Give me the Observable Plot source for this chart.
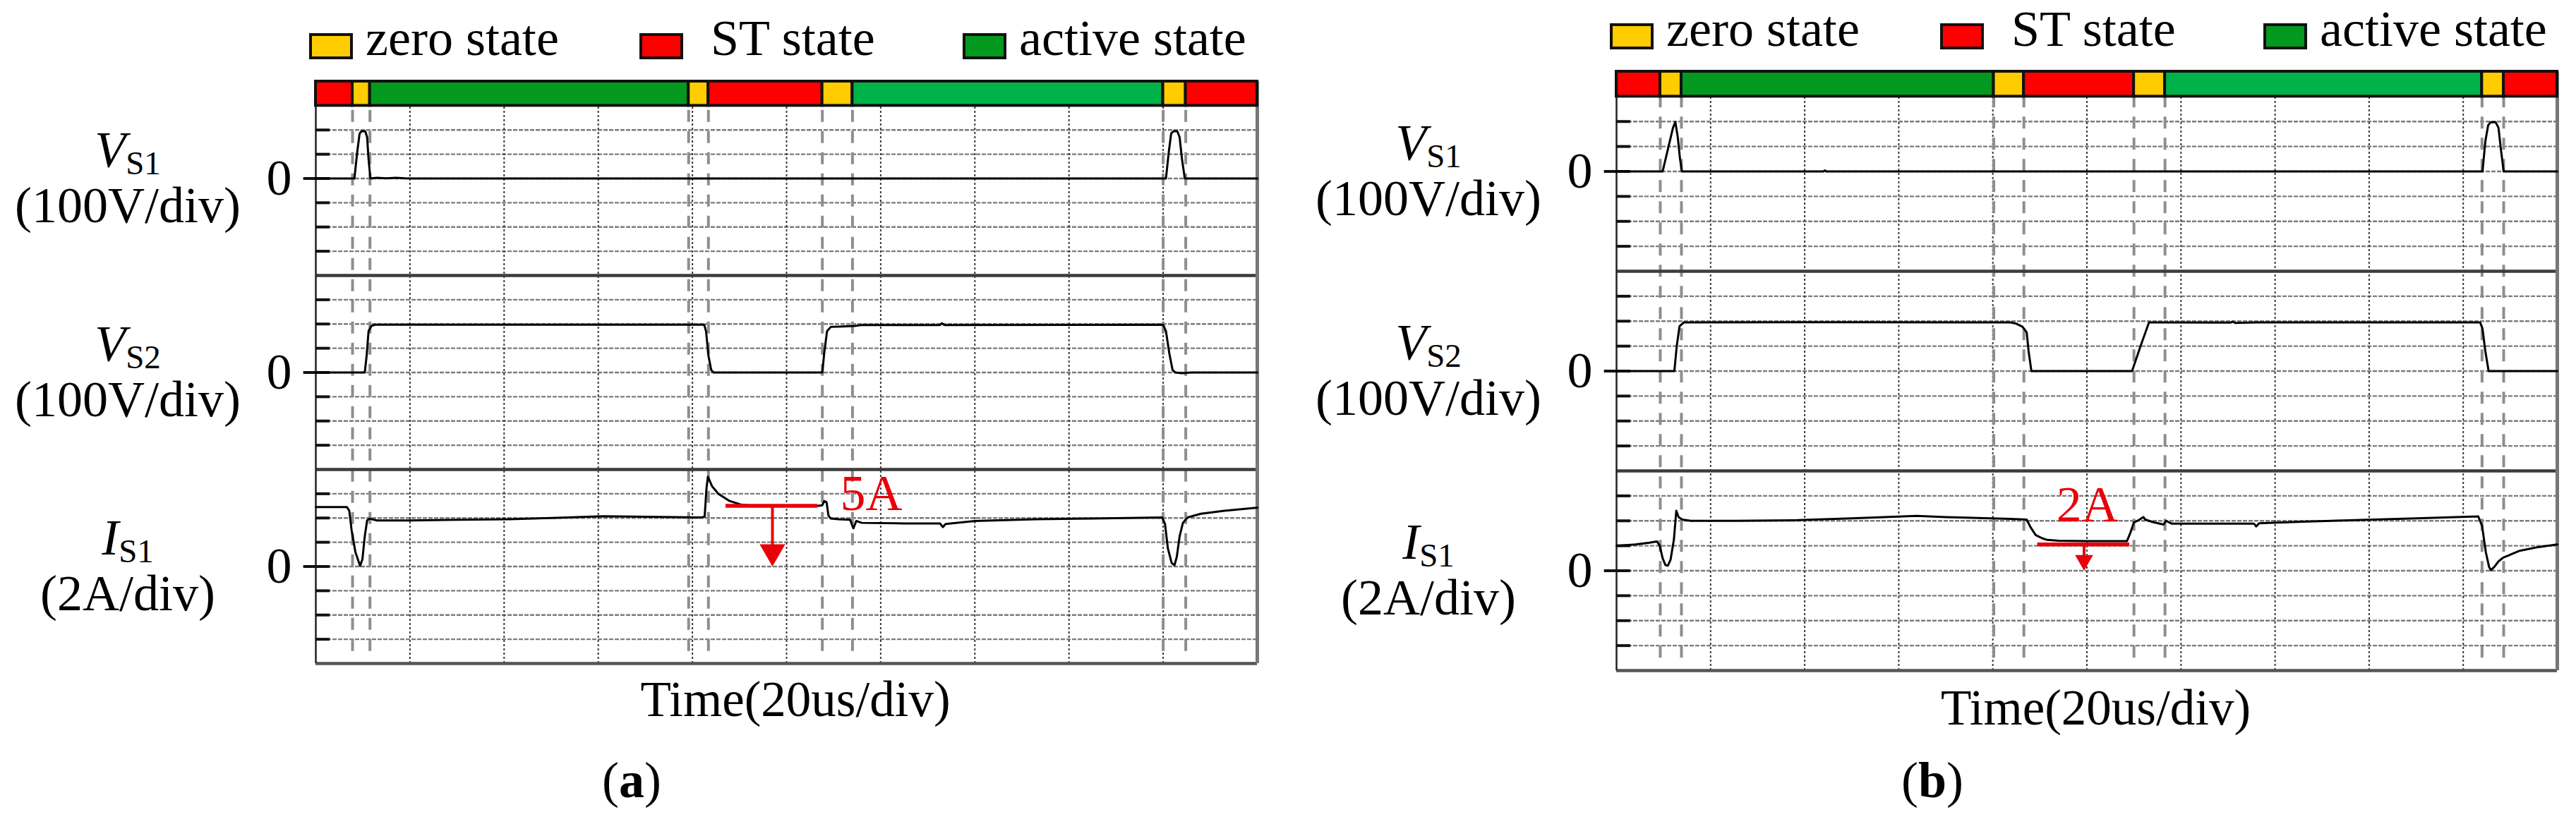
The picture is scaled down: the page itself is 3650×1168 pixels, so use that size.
<!DOCTYPE html>
<html>
<head>
<meta charset="utf-8">
<script src="https://cdn.jsdelivr.net/npm/d3@7"></script>
<script src="https://cdn.jsdelivr.net/npm/@observablehq/plot@0.6"></script>
<style>
  html, body { margin: 0; padding: 0; background: #fff; }
  #root { position: relative; width: 3650px; height: 1168px; overflow: hidden; }
  .panel { position: absolute; top: 0; width: 1825px; height: 1168px; }
  .panel svg { position: absolute; left: 0; top: 0; overflow: visible; }
</style>
</head>
<body>
<div id="root"></div>
<script>
// ================= DATA =================
// time in µs (20 µs/div, 10 div), voltages in V, current in A
const legendStates = ["zero", "ST", "active"];
const legendLabels = ["zero state", "ST state", "active state"];
const stateSequence = ["ST", "zero", "active", "zero", "ST", "zero", "active2", "zero", "ST"];
const boundariesA = [7.8, 11.5, 79.2, 83.4, 107.6, 114.0, 180.0, 184.8];
const boundariesB = [9.3, 13.8, 80.2, 86.6, 110.0, 116.6, 184.0, 188.6];

const channelNames = [
  {key: "vs1", sym: "V", sub: "S1", unit: "(100V/div)"},
  {key: "vs2", sym: "V", sub: "S2", unit: "(100V/div)"},
  {key: "is1", sym: "I", sub: "S1", unit: "(2A/div)"}
];
const timeLabel = "Time(20us/div)";

// (a) traces [t µs, value]
const vs1A = [[0,0],[8.2,0],[8.8,110],[9.3,185],[9.7,195],[10.5,195],[10.9,170],[11.2,80],[11.6,0],[13,3],[15,1],[17,3],[19,1],[21,0],
  [180.6,0],[181.2,110],[181.7,185],[182.2,195],[183.0,195],[183.5,170],[184.0,80],[184.6,0],[200,0]];
const vs2A = [[0,0],[10.4,0],[10.8,70],[11.2,170],[11.8,192],[12.6,197],[82.5,197],[82.9,170],[83.4,70],[84.0,10],[84.5,0],
  [107.6,0],[108.0,80],[108.6,170],[109.4,188],[112,190],[114.5,192],[116,196],[132.6,196],[133.0,203],[133.5,196],
  [180.0,197],[180.6,170],[181.3,80],[182.0,10],[182.6,0],[184.0,-3],[186,0],[200,0]];
const is1A = [[0,4.9],[6.6,4.9],[7.1,4.6],[7.6,3.0],[8.4,1.2],[9.4,0.05],[9.9,0.6],[10.4,2.5],[10.9,3.8],[11.4,3.95],[13,3.8],
  [20,3.8],[30,3.85],[41,3.9],[50,4.0],[61,4.15],[70,4.1],[81.8,4.05],[82.6,4.1],[83.0,6.5],[83.3,7.4],[84.2,6.6],[85.5,6.0],
  [87.9,5.4],[90.4,5.1],[93,5.0],[106.6,5.0],[107.6,5.05],[108.0,5.4],[108.5,5.3],[108.9,4.2],[109.4,3.95],[111,3.9],
  [113.5,3.85],[114.2,3.15],[114.8,3.75],[116,3.6],[125,3.55],[132.6,3.55],[133.2,3.25],[133.8,3.5],[140,3.75],[153,3.9],
  [165,3.95],[179.8,4.05],[180.4,3.5],[181.0,1.5],[181.8,0.3],[182.4,0.1],[182.9,0.8],[183.5,2.5],[184.2,3.6],[185.2,4.05],
  [188,4.35],[193,4.6],[200,4.85]];

// (b) traces
const vs1B = [[0,0],[9.8,0],[11.0,95],[12.0,175],[12.5,198],[13.0,140],[13.5,50],[13.9,0],[44,0],[44.3,4],[44.6,0],
  [184.1,0],[184.7,120],[185.3,185],[185.8,197],[186.9,197],[187.5,175],[188.0,90],[188.6,0],[200,0]];
const vs2B = [[0,0],[12.3,0],[12.8,100],[13.4,180],[14.3,195],[50,196],[83.8,195],[85.0,190],[86.3,178],[87.2,155],
  [87.6,80],[88.2,0],[109.6,0],[111.4,100],[113.2,195],[130.5,194],[131,198],[131.5,193],[136,195],[183.6,195],
  [184.1,170],[184.7,80],[185.4,0],[200,0]];
const is1B = [[0,2.0],[4,2.1],[7,2.25],[8.6,2.35],[9.2,2.0],[9.8,1.0],[10.4,0.45],[10.9,0.4],[11.5,0.9],[12.2,2.5],
  [12.7,4.8],[13.2,4.3],[14.0,4.1],[15.8,4.0],[25,4.0],[38.5,4.05],[50,4.2],[63.8,4.4],[70,4.3],[83.8,4.16],[87.2,4.1],
  [88.0,3.5],[89.1,2.86],[90.5,2.6],[91.6,2.47],[94,2.4],[100,2.37],[108.5,2.37],[109.2,3.0],[110,3.88],[111,4.05],
  [112,4.3],[112.4,4.1],[114,3.9],[116.3,3.7],[116.8,4.0],[118,3.78],[135.5,3.78],[136,3.55],[136.6,3.8],[139.5,3.85],
  [147,3.95],[157,4.05],[170,4.2],[183.2,4.35],[184.0,3.6],[184.8,1.5],[185.5,0.3],[185.9,0.05],[186.6,0.3],[187.5,0.75],
  [188.5,1.05],[192,1.6],[196,1.9],[200,2.1]];

// annotations (µs, A)
const annotA = {x1: 87.1, x2: 106.6, level: 5.0, at: 97.0, label: "5A", lx: 111.4, ly: 4.65};
const annotB = {x1: 89.5, x2: 109.1, level: 2.1, at: 99.4, label: "2A", lx: 93.5, ly: 3.94};
const panelTags = ["a", "b"];

// ================= STYLE / LAYOUT =================
const FONT = '"Liberation Serif","Times New Roman",Times,serif';
const COLORS = {zero: "#ffcc00", ST: "#ff0000", active: "#03991e", active2: "#00b24a"};
const RED = "#e8000b";
// oscilloscope division layout: 23 divisions, panels of 7/8/8 div, state bar 1 div above
const ZERO = {vs1: 20, vs2: 12, is1: 4};
const PER_DIV = {vs1: 100, vs2: 100, is1: 2};
const T_MAX = 200, DIV_T = 20;

const panels = [
  {left: 0, ml: 447, mr: 44, mt: 115, mb: 228, bounds: boundariesA, vs1: vs1A, vs2: vs2A, is1: is1A, annot: annotA,
   legendBoxY: 49, legendBase: 78, timeBase: 1015, tagBase: 1130, tag: panelTags[0]},
  {left: 1825, ml: 465, mr: 27, mt: 101, mb: 218, bounds: boundariesB, vs1: vs1B, vs2: vs2B, is1: is1B, annot: annotB,
   legendBoxY: 35, legendBase: 65, timeBase: 1027, tagBase: 1130, tag: panelTags[1]}
];

function buildPanel(p) {
  const W = 1825, H = 1168;
  const segs = stateSequence.map((s, i) => ({
    s, x1: i === 0 ? 0 : p.bounds[i - 1], x2: i < p.bounds.length ? p.bounds[i] : T_MAX
  }));
  const toDiv = key => p[key].map(([t, v]) => ({t, y: ZERO[key] + v / PER_DIV[key]}));
  const hGrid = d3.range(1, 23).filter(d => d !== 8 && d !== 16);
  const hTicks = hGrid.filter(d => !Object.values(ZERO).includes(d));
  const zeros = Object.values(ZERO);
  const vGrid = d3.range(DIV_T, T_MAX, DIV_T);
  const a = p.annot;
  const aY = v => ZERO.is1 + v / PER_DIV.is1;

  const plot = Plot.plot({
    width: W, height: H,
    marginLeft: p.ml, marginRight: p.mr, marginTop: p.mt, marginBottom: p.mb,
    x: {domain: [0, T_MAX], axis: null},
    y: {domain: [0, 24], axis: null},
    color: {type: "identity"},
    style: {fontFamily: FONT, background: "transparent", overflow: "visible"},
    marks: [
      Plot.ruleY(hGrid, {y: d => d, stroke: "#7c7c7c", strokeWidth: 2.4, strokeDasharray: "6,2"}),
      Plot.ruleX(vGrid, {x: d => d, y1: 0, y2: 23, stroke: "#3a3a3a", strokeWidth: 2, strokeDasharray: "3,3"}),
      Plot.ruleX(p.bounds, {x: d => d, y1: 0.5, y2: 23, stroke: "#8e8e8e", strokeWidth: 4, strokeDasharray: "17,13"}),
      Plot.ruleY([8, 16], {y: d => d, stroke: "#3c3c3c", strokeWidth: 4.5}),
      Plot.ruleY([0], {y: d => d, stroke: "#555", strokeWidth: 4.5}),
      Plot.ruleX([0], {x: d => d, y1: 0, y2: 23, stroke: "#222", strokeWidth: 2.5}),
      Plot.ruleX([T_MAX], {x: d => d, y1: 0, y2: 24, stroke: "#777", strokeWidth: 5}),
      Plot.ruleY(hTicks, {y: d => d, x1: 0, x2: 3, stroke: "#111", strokeWidth: 4}),
      Plot.ruleY(zeros, {y: d => d, x1: -2.6, x2: 3, stroke: "#111", strokeWidth: 4}),
      Plot.line(toDiv("vs1"), {x: "t", y: "y", stroke: "#000", strokeWidth: 3}),
      Plot.line(toDiv("vs2"), {x: "t", y: "y", stroke: "#000", strokeWidth: 3}),
      Plot.line(toDiv("is1"), {x: "t", y: "y", stroke: "#000", strokeWidth: 3}),
      Plot.rect(segs, {x1: "x1", x2: "x2", y1: 23, y2: 24, fill: d => COLORS[d.s], stroke: "#111", strokeWidth: 4}),
      Plot.ruleY([a], {x1: "x1", x2: "x2", y: d => aY(d.level), stroke: RED, strokeWidth: 5.5}),
      Plot.ruleX([a], {x: "at", y1: d => aY(d.level), y2: d => aY(0) + 0.6, stroke: RED, strokeWidth: 4}),
      Plot.dot([a], {x: "at", y: d => aY(0), symbol: "triangle", rotate: 180, r: p.tag === "a" ? 13.5 : 9.5,
        fill: RED, stroke: "none", dy: p.tag === "a" ? -21 : -14.8}),
      Plot.text([a], {x: "lx", y: d => aY(d.ly), text: "label", textAnchor: "start", lineAnchor: "bottom",
        fill: RED, fontSize: 72, fontFamily: FONT}),
      Plot.text(zeros, {y: d => d, text: () => "0", frameAnchor: "left", dx: -34, textAnchor: "end",
        fontSize: 72, fontFamily: FONT, fill: "#000"})
    ]
  });

  const svg = d3.select(plot);
  const y = plot.scale("y");
  const x = plot.scale("x");
  const fx0 = x.apply(0), fx1 = x.apply(T_MAX);
  const labelX = p.ml - 266;

  channelNames.forEach(c => {
    const zy = y.apply(ZERO[c.key]);
    const t = svg.append("text").attr("x", labelX).attr("y", zy - 17)
      .attr("text-anchor", "middle").attr("font-family", FONT).attr("font-size", 72).attr("fill", "#000");
    t.append("tspan").attr("font-style", "italic").text(c.sym);
    t.append("tspan").attr("font-size", 47).attr("dy", 11).text(c.sub);
    svg.append("text").attr("x", labelX).attr("y", zy + 62)
      .attr("text-anchor", "middle").attr("font-family", FONT).attr("font-size", 72).attr("fill", "#000")
      .text(c.unit);
  });

  const legendOffsets = [-7, 461, 919];
  const textGaps = [78, 99, 78];
  legendStates.forEach((s, i) => {
    const bx = p.ml + legendOffsets[i];
    svg.append("rect").attr("x", bx).attr("y", p.legendBoxY).attr("width", 58).attr("height", 33)
      .attr("fill", COLORS[s]).attr("stroke", "#111").attr("stroke-width", 4);
    svg.append("text").attr("x", bx + textGaps[i]).attr("y", p.legendBase).attr("text-anchor", "start")
      .attr("font-family", FONT).attr("font-size", 72).attr("fill", "#000").text(legendLabels[i]);
  });

  svg.append("text").attr("x", (fx0 + fx1) / 2 + 13).attr("y", p.timeBase).attr("text-anchor", "middle")
    .attr("font-family", FONT).attr("font-size", 71).attr("fill", "#000").text(timeLabel);
  const tag = svg.append("text").attr("x", fx0 + 448).attr("y", p.tagBase).attr("text-anchor", "middle")
    .attr("font-family", FONT).attr("font-size", 72).attr("fill", "#000");
  tag.append("tspan").text("(");
  tag.append("tspan").attr("font-weight", "bold").text(p.tag);
  tag.append("tspan").text(")");
  return plot;
}

const root = d3.select("#root");
panels.forEach(p => {
  const div = root.append("div").attr("class", "panel").style("left", p.left + "px");
  div.node().appendChild(buildPanel(p));
});
</script>
</body>
</html>
